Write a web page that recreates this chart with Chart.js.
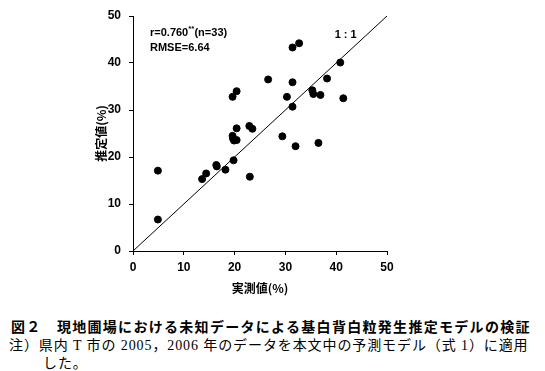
<!DOCTYPE html>
<html>
<head>
<meta charset="utf-8">
<script src="https://cdn.jsdelivr.net/npm/chart.js@4.4.0/dist/chart.umd.min.js"></script>
<style>
  body { margin: 0; background: #fff; }
  #wrap { position: relative; width: 545px; height: 371px; }
  #box { position: absolute; left: 0; top: 0; width: 545px; height: 300px; }
  .cap { position: absolute; white-space: nowrap; color: #000; font-family: "Noto Sans CJK JP", sans-serif; }
  #c1 { left: 11px; top: 316px; font-size: 14px; font-weight: bold; letter-spacing: 1.3px; }
  #c2 { left: 9px; top: 334px; font-size: 14px; letter-spacing: 0.9px; font-family: "Liberation Serif", "Noto Sans CJK JP", serif; }
  #c3 { left: 43px; top: 352px; font-size: 14px; letter-spacing: 0.9px; }
</style>
</head>
<body>
<div id="wrap">
  <div id="box"><canvas id="scatterChart"></canvas></div>
  <div class="cap" id="c1">図２　現地圃場における未知データによる基白背白粒発生推定モデルの検証</div>
  <div class="cap" id="c2">注）県内 T 市の 2005，2006 年のデータを本文中の予測モデル（式 1）に適用</div>
  <div class="cap" id="c3">した。</div>
</div>
<script>
const observed = [19.6, 20.4, 31.4, 32.7, 26.6, 31.4, 40.8, 38.2, 30.3, 35.3, 35.5, 36.9, 41.4, 31.4,
                  20.4, 22.9, 23.5, 29.4, 19.6, 19.9, 20.4, 32.0, 36.5, 4.9, 4.9, 13.6, 14.4, 16.4,
                  16.5, 18.2, 19.8, 23.0, 19.7];
const estimated = [32.8, 34.0, 43.3, 44.2, 36.5, 35.9, 40.1, 36.7, 32.8, 34.2, 33.4, 33.2, 32.5, 30.7,
                   26.1, 26.6, 26.0, 24.4, 24.5, 23.5, 23.6, 22.3, 23.0, 17.1, 6.7, 15.3, 16.5, 18.3,
                   18.0, 17.3, 19.3, 15.8, 23.9];
const oneToOne = [0, 50];
const axisTicks = [0, 10, 20, 30, 40, 50];

const points = observed.map((x, i) => ({ x: x, y: estimated[i] }));
const diag = oneToOne.map(v => ({ x: v, y: v }));

// texts inside the plot
const notePlugin = {
  id: 'notes',
  afterDatasetsDraw(chart) {
    const ctx = chart.ctx;
    const xs = chart.scales.x, ys = chart.scales.y;
    ctx.save();
    ctx.fillStyle = '#000';
    ctx.textBaseline = 'middle';
    ctx.font = 'bold 11px "Liberation Sans", Arial, sans-serif';
    let x = 150;
    ctx.fillText('r=0.760', x, 33);
    x += ctx.measureText('r=0.760').width;
    ctx.font = 'bold 8px "Liberation Sans", Arial, sans-serif';
    ctx.fillText('**', x, 29);
    x += ctx.measureText('**').width;
    ctx.font = 'bold 11px "Liberation Sans", Arial, sans-serif';
    ctx.fillText('(n=33)', x, 33);
    ctx.fillText('RMSE=6.64', 150, 48);
    ctx.fillText('1 : 1', xs.getPixelForValue(39.7), ys.getPixelForValue(45.9));
    ctx.restore();
  }
};

const tickFont = { family: '"Liberation Sans", Arial, sans-serif', size: 12, weight: 'bold' };
const titleFont = { family: '"Noto Sans CJK JP", sans-serif', size: 12, weight: 'bold' };

new Chart(document.getElementById('scatterChart').getContext('2d'), {
  type: 'scatter',
  data: {
    datasets: [{
      data: points,
      backgroundColor: '#000',
      borderColor: '#000',
      pointRadius: 3.5,
      pointHoverRadius: 3.5
    }, {
      type: 'line',
      data: diag,
      borderColor: '#000',
      borderWidth: 1,
      pointRadius: 0,
      fill: false
    }]
  },
  plugins: [notePlugin],
  options: {
    responsive: true,
    maintainAspectRatio: false,
    animation: false,
    layout: { padding: { left: 90, right: 158, top: 16, bottom: 0 } },
    plugins: { legend: { display: false }, tooltip: { enabled: false } },
    scales: {
      x: {
        type: 'linear',
        min: 0, max: 50,
        afterBuildTicks: s => { s.ticks = axisTicks.map(v => ({ value: v })); },
        afterFit: s => { s.height = 49; },
        grid: { drawOnChartArea: false, drawTicks: true, tickLength: 4, color: '#000' },
        border: { color: '#000', width: 1 },
        ticks: { color: '#000', font: tickFont, padding: 5, maxRotation: 0 },
        title: { display: true, text: '実測値(%)', color: '#000', font: titleFont, padding: { top: 0, bottom: 4 } }
      },
      y: {
        type: 'linear',
        min: 0, max: 50,
        afterBuildTicks: s => { s.ticks = axisTicks.map(v => ({ value: v })); },
        afterFit: s => { s.width = 43; },
        grid: { drawOnChartArea: false, drawTicks: true, tickLength: 4, color: '#000' },
        border: { color: '#000', width: 1 },
        ticks: { color: '#000', font: tickFont, padding: 8 },
        title: { display: true, text: '推定値(%)', color: '#000', font: titleFont, padding: { top: 4, bottom: 0 } }
      }
    }
  }
});
</script>
</body>
</html>
